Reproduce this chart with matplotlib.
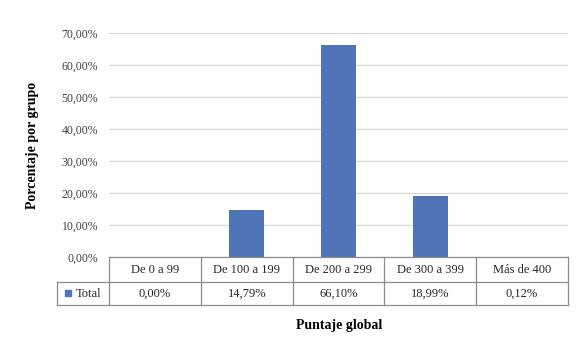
import matplotlib.pyplot as plt
from matplotlib.transforms import blended_transform_factory
from matplotlib.patches import Rectangle

categories = ["De 0 a 99", "De 100 a 199", "De 200 a 299", "De 300 a 399", "Más de 400"]
values = [0.00, 14.79, 66.10, 18.99, 0.12]
value_labels = ["0,00%", "14,79%", "66,10%", "18,99%", "0,12%"]
yticks = [0, 10, 20, 30, 40, 50, 60, 70]
series_name = "Total"

bar_color = "#4f74b8"
grid_color = "#d9d9d9"
line_color = "#8c8c8c"
text_color = "#404040"

plt.rcParams['font.family'] = ['Liberation Serif', 'DejaVu Serif']

fig = plt.figure(figsize=(5.88, 3.43), dpi=100)
ax = fig.add_axes([0.1855, 0.2507, 0.7805, 0.6531])

x = list(range(len(categories)))
ax.bar(x, values, width=0.38, color=bar_color, zorder=3)

ax.set_xlim(-0.5, len(categories) - 0.5)
ax.set_ylim(0, 70)
ax.set_yticks(yticks)
ax.set_yticklabels([f"{v},00%" for v in yticks], fontsize=8.5, color=text_color)
ax.set_xticks([])
ax.tick_params(axis='y', length=0, pad=8)
ax.grid(axis='y', color=grid_color, linewidth=0.9, zorder=0)
for s in ax.spines.values():
    s.set_visible(False)

ax.set_ylabel("Porcentaje por grupo", fontsize=10, fontweight='bold')
ax.yaxis.set_label_coords(-0.152, 0.50)

# data table under the plot
tr = blended_transform_factory(ax.transData, ax.transAxes)
h_bot = -0.112
d_bot = -0.214
leg_left = -1.065
n = len(categories)
kw = dict(color=line_color, linewidth=0.9, transform=tr, clip_on=False)
ax.plot([-0.5, n - 0.5], [0, 0], **kw)
ax.plot([leg_left, n - 0.5], [h_bot, h_bot], **kw)
ax.plot([leg_left, n - 0.5], [d_bot, d_bot], **kw)
ax.plot([leg_left, leg_left], [h_bot, d_bot], **kw)
for i in range(n + 1):
    ax.plot([i - 0.5, i - 0.5], [0, d_bot], **kw)

for i, (c, v) in enumerate(zip(categories, value_labels)):
    ax.text(i, h_bot / 2, c, transform=tr, ha='center', va='center',
            fontsize=9, color='#262626')
    ax.text(i, (h_bot + d_bot) / 2, v, transform=tr, ha='center', va='center',
            fontsize=9, color='#262626')

ax.add_patch(Rectangle((leg_left + 0.08, (h_bot + d_bot) / 2 - 0.013), 0.075, 0.03,
                       transform=tr, color=bar_color, clip_on=False))
ax.text(leg_left + 0.2, (h_bot + d_bot) / 2, series_name, transform=tr,
        ha='left', va='center', fontsize=9, color='#262626')

fig.text(0.577, 0.05, "Puntaje global", ha='center', va='center',
         fontsize=10, fontweight='bold')

fig.savefig("out.png", dpi=100, facecolor='white')
